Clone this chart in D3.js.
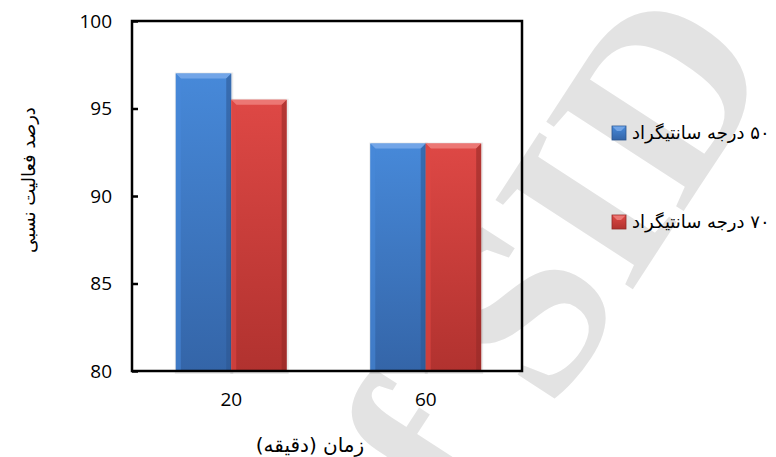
<!DOCTYPE html>
<html>
<head>
<meta charset="utf-8">
<script src="https://cdn.jsdelivr.net/npm/d3@7"></script>
<style>
  body { margin: 0; background: #fff; }
  svg { display: block; }
</style>
</head>
<body>
<div id="chart"></div>
<script>
// data
const categories = ["20", "60"];
const seriesNames = ["۵۰ درجه سانتیگراد", "۷۰ درجه سانتیگراد"];
const values50 = [97, 93];
const values70 = [95.5, 93];
const yTicks = [80, 85, 90, 95, 100];

const width = 776;
const height = 457;

const svg = d3
  .select("#chart")
  .append("svg")
  .attr("width", width)
  .attr("height", height);

const defs = svg.append("defs");

// gradients for the bevelled bars
const palette = [
  { id: "blue", top: "#4789d9", bottom: "#3465a8", light: "#7aaaea", dark: "#2b5590" },
  { id: "red", top: "#de4845", bottom: "#b1322f", light: "#ee807c", dark: "#922826" },
];
palette.forEach((p) => {
  const g = defs
    .append("linearGradient")
    .attr("id", "grad-" + p.id)
    .attr("x1", 0).attr("y1", 0).attr("x2", 0).attr("y2", 1);
  g.append("stop").attr("offset", "0%").attr("stop-color", p.top);
  g.append("stop").attr("offset", "100%").attr("stop-color", p.bottom);
});

// faint watermark, behind the chart
svg
  .append("text")
  .attr("transform", "translate(405,640) rotate(-57)")
  .attr("font-family", "'Liberation Serif', serif")
  .attr("font-weight", "bold")
  .attr("font-size", 250)
  .attr("fill", "#e3e3e3")
  .text("of SID");

const frame = { left: 132, right: 522, top: 21, bottom: 371 };

const y = d3.scaleLinear().domain([80, 100]).range([frame.bottom, frame.top]);

const x = d3
  .scaleBand()
  .domain(categories)
  .range([134, 523])
  .paddingInner(0.43)
  .paddingOuter(0.215);

const xSub = d3
  .scaleBand()
  .domain([0, 1])
  .range([0, x.bandwidth()])
  .padding(0);

// bars
const rows = categories.map((c, i) => ({ cat: c, vals: [values50[i], values70[i]] }));

const groups = svg
  .append("g")
  .selectAll("g")
  .data(rows)
  .join("g")
  .attr("transform", (d) => `translate(${x(d.cat)},0)`);

const bars = groups
  .selectAll("g")
  .data((d) => d.vals.map((v, s) => ({ v, s })))
  .join("g");

const bev = 5;

// soft shadow
bars
  .append("rect")
  .attr("x", (d) => xSub(d.s) - 1)
  .attr("y", (d) => y(d.v) - 1)
  .attr("width", xSub.bandwidth() + 3)
  .attr("height", (d) => frame.bottom - y(d.v) + 4)
  .attr("fill", "#000")
  .attr("opacity", 0.08);

bars
  .append("rect")
  .attr("x", (d) => xSub(d.s))
  .attr("y", (d) => y(d.v))
  .attr("width", xSub.bandwidth())
  .attr("height", (d) => frame.bottom - y(d.v))
  .attr("fill", (d) => `url(#grad-${palette[d.s].id})`);

// top bevel
bars
  .append("path")
  .attr("d", (d) => {
    const x0 = xSub(d.s), x1 = x0 + xSub.bandwidth(), t = y(d.v);
    return `M${x0},${t}L${x1},${t}L${x1 - bev},${t + bev}L${x0 + bev},${t + bev}Z`;
  })
  .attr("fill", (d) => palette[d.s].light)
  .attr("opacity", 0.85);

// side bevels
bars
  .append("path")
  .attr("d", (d) => {
    const x0 = xSub(d.s), t = y(d.v), b = frame.bottom;
    return `M${x0},${t}L${x0 + bev},${t + bev}L${x0 + bev},${b}L${x0},${b}Z`;
  })
  .attr("fill", (d) => palette[d.s].top)
  .attr("opacity", 0.6);

bars
  .append("path")
  .attr("d", (d) => {
    const x1 = xSub(d.s) + xSub.bandwidth(), t = y(d.v), b = frame.bottom;
    return `M${x1},${t}L${x1 - bev},${t + bev}L${x1 - bev},${b}L${x1},${b}Z`;
  })
  .attr("fill", (d) => palette[d.s].dark)
  .attr("opacity", 0.55);

// frame
svg
  .append("rect")
  .attr("x", frame.left)
  .attr("y", frame.top)
  .attr("width", frame.right - frame.left)
  .attr("height", frame.bottom - frame.top)
  .attr("fill", "none")
  .attr("stroke", "#000")
  .attr("stroke-width", 2.5);

// y axis
const yAxis = svg
  .append("g")
  .attr("transform", `translate(${frame.left},0)`)
  .call(d3.axisLeft(y).tickValues(yTicks).tickSize(-6).tickPadding(20));

yAxis.select(".domain").remove();
yAxis.selectAll(".tick line").attr("stroke", "#000").attr("stroke-width", 2.5);
yAxis
  .selectAll(".tick text")
  .attr("font-family", "'Open Sans', sans-serif")
  .attr("font-size", 19)
  .attr("fill", "#000");

// x axis labels
const xAxis = svg
  .append("g")
  .attr("transform", `translate(0,${frame.bottom})`)
  .call(d3.axisBottom(x).tickSize(0).tickPadding(22));

xAxis.select(".domain").remove();
xAxis
  .selectAll(".tick text")
  .attr("font-family", "'Open Sans', sans-serif")
  .attr("font-size", 19)
  .attr("fill", "#000");

// axis titles
svg
  .append("text")
  .attr("x", 310)
  .attr("y", 452)
  .attr("text-anchor", "middle")
  .attr("direction", "rtl")
  .attr("font-family", "'DejaVu Sans', sans-serif")
  .attr("font-size", 20)
  .text("زمان (دقیقه)");

svg
  .append("text")
  .attr("transform", "translate(35,180) rotate(-90)")
  .attr("text-anchor", "middle")
  .attr("direction", "rtl")
  .attr("font-family", "'DejaVu Sans', sans-serif")
  .attr("font-size", 18)
  .text("درصد فعالیت نسبی");

// legend
const legend = svg
  .append("g")
  .selectAll("g")
  .data(seriesNames)
  .join("g")
  .attr("transform", (d, i) => `translate(612,${133 + i * 89})`);

legend
  .append("rect")
  .attr("x", 0)
  .attr("y", -7)
  .attr("width", 14)
  .attr("height", 14)
  .attr("fill", (d, i) => `url(#grad-${palette[i].id})`)
  .attr("stroke", (d, i) => palette[i].dark)
  .attr("stroke-width", 0.8);

legend
  .append("path")
  .attr("d", "M0.5,-6.5L13.5,-6.5L9,-2L5,-2Z")
  .attr("fill", (d, i) => palette[i].light)
  .attr("opacity", 0.85);

legend
  .append("text")
  .attr("x", 20)
  .attr("y", 6)
  .attr("direction", "rtl")
  .attr("text-anchor", "end")
  .attr("font-family", "'DejaVu Sans', sans-serif")
  .attr("font-size", 18)
  .text((d) => d);
</script>
</body>
</html>
